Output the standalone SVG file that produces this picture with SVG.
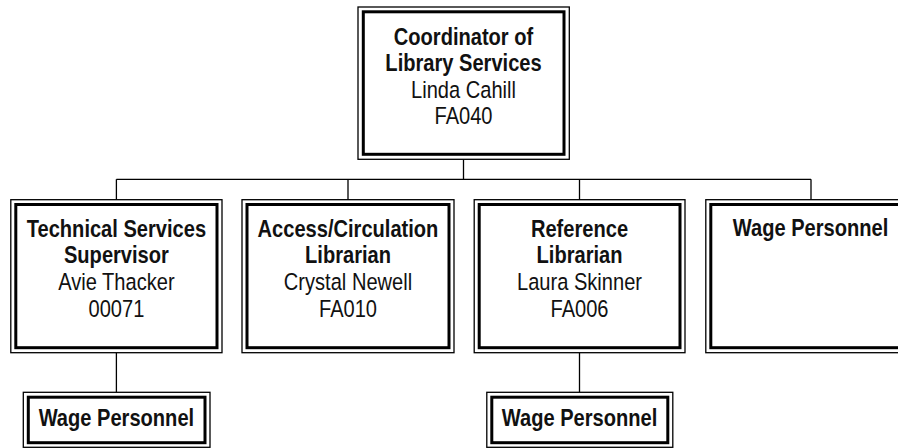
<svg xmlns="http://www.w3.org/2000/svg" width="898" height="448" viewBox="0 0 898 448">
<style>
.o{fill:#fff;stroke:#000;stroke-width:1.3}
.i{fill:none;stroke:#000;stroke-width:3}
.c{fill:none;stroke:#000;stroke-width:1.3}
text{font-family:"Liberation Sans","Arial",sans-serif;font-size:24.5px;text-anchor:middle;fill:#111}
.b{font-weight:bold}
</style>
<rect width="898" height="448" fill="#fff"/>
<g id="connectors">
<path class="c" d="M463.5 159.5V179.3M116.4 179.3H811M116.4 179.3V199.7M348 179.3V199.7M579.5 179.3V199.7M811 179.3V199.7M116.4 352.7V392.3M579.5 352.7V392.3"/>
</g>
<g id="coordinator">
<rect class="o" x="358" y="7" width="211.3" height="152.3"/>
<rect class="i" x="363.3" y="11.8" width="200.7" height="142.5"/>
<text transform="translate(463.5 44.5) scale(0.82 1)" class="b">Coordinator of</text>
<text transform="translate(463.5 71) scale(0.82 1)" class="b">Library Services</text>
<text transform="translate(463.5 97.5) scale(0.82 1)">Linda Cahill</text>
<text transform="translate(463.5 124.2) scale(0.82 1)">FA040</text>
</g>
<g id="technical">
<rect class="o" x="10.8" y="199.7" width="211.2" height="153"/>
<rect class="i" x="15.8" y="204.5" width="201.2" height="143.2"/>
<text transform="translate(116.4 236.7) scale(0.82 1)" class="b">Technical Services</text>
<text transform="translate(116.4 263.2) scale(0.82 1)" class="b">Supervisor</text>
<text transform="translate(116.4 290) scale(0.82 1)">Avie Thacker</text>
<text transform="translate(116.4 316.6) scale(0.82 1)">00071</text>
</g>
<g id="access">
<rect class="o" x="242" y="199.7" width="212" height="153"/>
<rect class="i" x="247" y="204.5" width="202" height="143.2"/>
<text transform="translate(348 236.7) scale(0.82 1)" class="b">Access/Circulation</text>
<text transform="translate(348 263.2) scale(0.82 1)" class="b">Librarian</text>
<text transform="translate(348 290) scale(0.82 1)">Crystal Newell</text>
<text transform="translate(348 316.6) scale(0.82 1)">FA010</text>
</g>
<g id="reference">
<rect class="o" x="474.2" y="199.7" width="210.8" height="153"/>
<rect class="i" x="479.2" y="204.5" width="200.8" height="143.2"/>
<text transform="translate(579.5 236.7) scale(0.82 1)" class="b">Reference</text>
<text transform="translate(579.5 263.2) scale(0.82 1)" class="b">Librarian</text>
<text transform="translate(579.5 290) scale(0.82 1)">Laura Skinner</text>
<text transform="translate(579.5 316.6) scale(0.82 1)">FA006</text>
</g>
<g id="wage-top">
<rect class="o" x="705.8" y="199.7" width="211" height="153"/>
<rect class="i" x="710.8" y="204.5" width="201" height="143.2"/>
<text transform="translate(810.5 235.5) scale(0.82 1)" class="b">Wage Personnel</text>
</g>
<g id="wage-technical">
<rect class="o" x="23.3" y="392.3" width="186.7" height="55"/>
<rect class="i" x="28.3" y="397.2" width="176.7" height="45.5"/>
<text transform="translate(116.4 425.5) scale(0.82 1)" class="b">Wage Personnel</text>
</g>
<g id="wage-reference">
<rect class="o" x="486.8" y="392.3" width="186" height="55"/>
<rect class="i" x="491.8" y="397.2" width="176" height="45.5"/>
<text transform="translate(579.5 425.5) scale(0.82 1)" class="b">Wage Personnel</text>
</g>
</svg>
